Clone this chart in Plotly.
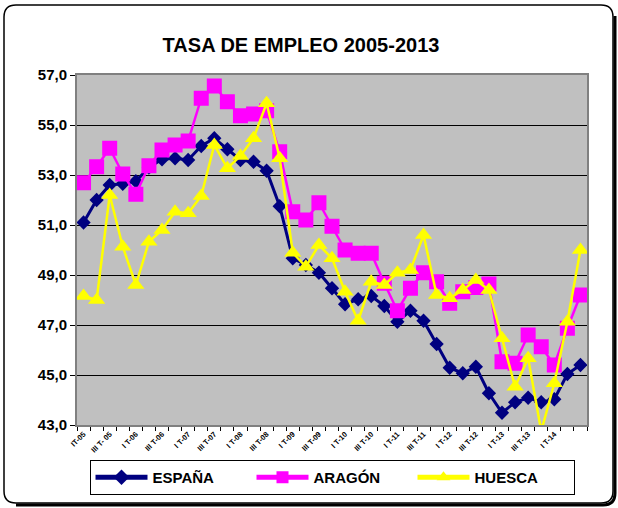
import plotly.graph_objects as go

quarters = list(range(39))
tick_labels = ["IT-05", "III T- 05", "I T-06", "III T-06", "I T-07", "III T-07",
               "I T-08", "III T-08", "I T-09", "III T-09", "I T-10", "III T-10",
               "I T-11", "III T-11", "I T-12", "III T-12", "I T-13", "III T-13", "I T-14"]

espana = [51.1, 52.0, 52.6, 52.65, 52.75, 53.3, 53.63, 53.67, 53.6, 54.16,
          54.47, 54.03, 53.6, 53.53, 53.17, 51.75, 49.67, 49.4, 49.09, 48.47,
          47.83, 48.03, 48.16, 47.76, 47.13, 47.57, 47.17, 46.24, 45.29, 45.07,
          45.33, 44.27, 43.49, 43.91, 44.09, 43.91, 44.03, 45.04, 45.4]
aragon = [52.69, 53.33, 54.07, 53.04, 52.23, 53.37, 54.0, 54.2, 54.36, 56.07,
          56.56, 55.93, 55.37, 55.44, 55.57, 53.93, 51.53, 51.2, 51.89, 50.95,
          50.0, 49.87, 49.87, 48.67, 47.57, 48.47, 49.09, 48.73, 47.87, 48.33,
          48.5, 48.64, 45.53, 45.47, 46.6, 46.13, 45.4, 46.87, 48.2]
huesca = [48.16, 48.0, 52.2, 50.13, 48.6, 50.33, 50.8, 51.53, 51.47, 52.16,
          54.2, 53.27, 53.76, 54.47, 55.87, 53.67, 49.89, 49.33, 50.2, 49.67,
          48.33, 47.17, 48.73, 48.6, 49.09, 49.2, 50.6, 48.2, 48.07, 48.4,
          48.8, 48.4, 46.47, 44.53, 45.67, 42.75, 44.67, 47.13, 50.0]

FONT = "Arial, Liberation Sans, sans-serif"

fig = go.Figure()
fig.add_trace(go.Scatter(x=quarters, y=espana, name="<b>ESPAÑA</b>", mode="lines+markers",
                         line=dict(color="#000080", width=3),
                         marker=dict(symbol="diamond", size=11, color="#000080")))
fig.add_trace(go.Scatter(x=quarters, y=aragon, name="<b>ARAGÓN</b>", mode="lines+markers",
                         line=dict(color="#FF00FF", width=2.5),
                         marker=dict(symbol="square", size=15, color="#FF00FF")))
fig.add_trace(go.Scatter(x=quarters, y=huesca, name="<b>HUESCA</b>", mode="lines+markers",
                         line=dict(color="#FFFF00", width=2.5),
                         marker=dict(symbol="triangle-up", size=15, color="#FFFF00")))

W, H = 618, 508
L, R, T, B = 77, 587, 75, 425


def px(x):
    return (x - L) / (R - L)


def py(y):
    return (B - y) / (B - T)


def rounded(x0, y0, x1, y1, r):
    pts = [
        f"M {px(x0 + r)},{py(y0)}",
        f"L {px(x1 - r)},{py(y0)}",
        f"Q {px(x1)},{py(y0)} {px(x1)},{py(y0 + r)}",
        f"L {px(x1)},{py(y1 - r)}",
        f"Q {px(x1)},{py(y1)} {px(x1 - r)},{py(y1)}",
        f"L {px(x0 + r)},{py(y1)}",
        f"Q {px(x0)},{py(y1)} {px(x0)},{py(y1 - r)}",
        f"L {px(x0)},{py(y0 + r)}",
        f"Q {px(x0)},{py(y0)} {px(x0 + r)},{py(y0)}",
        "Z",
    ]
    return " ".join(pts)


shadow = " ".join([
    f"M {px(16)},{py(505)}",
    f"L {px(603)},{py(505)}",
    f"Q {px(615)},{py(505)} {px(615)},{py(493)}",
    f"L {px(615)},{py(16)}",
])

fig.update_layout(
    width=W, height=H,
    margin=dict(l=L, r=W - R, t=T, b=H - B, autoexpand=False),
    paper_bgcolor="white",
    plot_bgcolor="#C0C0C0",
    separators=",.",
    font=dict(family=FONT, color="black"),
    title=dict(text="<b>TASA DE EMPLEO 2005-2013</b>", x=301 / W, xanchor="center",
               y=1 - 45 / H, yanchor="middle", font=dict(size=20, family=FONT)),
    showlegend=True,
    legend=dict(orientation="h", x=px(332), xanchor="center", y=py(460), yanchor="top",
                bordercolor="black", borderwidth=1, bgcolor="white",
                font=dict(size=15, family=FONT, color="black"),
                entrywidth=94, itemwidth=52, itemsizing="constant"),
    xaxis=dict(range=[-0.5, 38.5], tickmode="array", tickvals=list(range(0, 38, 2)),
               ticktext=[f"<b>{t}</b>" for t in tick_labels], tickangle=-45,
               tickfont=dict(size=7.5, family=FONT), ticks="", showgrid=False,
               showline=True, linecolor="#808080", linewidth=2, mirror=True,
               zeroline=False, automargin=False,
               minor=dict(tickmode="linear", tick0=-0.5, dtick=1, ticks="outside",
                          ticklen=4, tickcolor="black", showgrid=False)),
    yaxis=dict(range=[43, 57], tickmode="linear", tick0=43, dtick=2, tickformat=".1f",
               tickfont=dict(size=15, family=FONT), ticks="outside", ticklen=5,
               tickcolor="black", showgrid=True, gridcolor="black", gridwidth=1,
               showline=True, linecolor="#808080", linewidth=2, mirror=True,
               zeroline=False, automargin=False,
               tickprefix="<b>", ticksuffix="</b>"),
    shapes=[
        dict(type="path", xref="paper", yref="paper", path=rounded(4, 5, 613, 503, 12),
             line=dict(color="black", width=1.5), layer="above"),
        dict(type="path", xref="paper", yref="paper", path=shadow,
             line=dict(color="black", width=3), layer="above"),
    ],
)

fig.write_html("out.html", config={"displayModeBar": False},
               post_script="document.body.style.margin='0px';"
                           "document.body.style.overflow='hidden';")
